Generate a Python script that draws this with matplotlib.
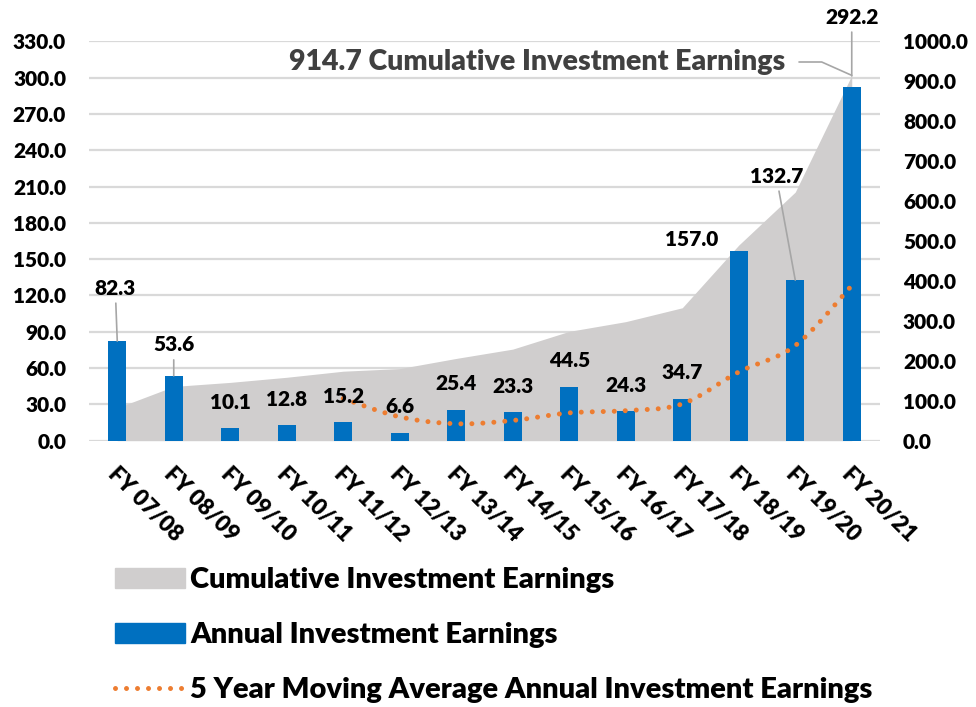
import numpy as np
import matplotlib
matplotlib.use('Agg')
import matplotlib.pyplot as plt
from matplotlib.patches import Patch
from matplotlib.lines import Line2D
import matplotlib.transforms as mtransforms

plt.rcParams['font.family'] = ['Lato', 'DejaVu Sans']
plt.rcParams['font.weight'] = 'heavy'

categories = ['FY 07/08', 'FY 08/09', 'FY 09/10', 'FY 10/11', 'FY 11/12', 'FY 12/13',
              'FY 13/14', 'FY 14/15', 'FY 15/16', 'FY 16/17', 'FY 17/18', 'FY 18/19',
              'FY 19/20', 'FY 20/21']
annual = [82.3, 53.6, 10.1, 12.8, 15.2, 6.6, 25.4, 23.3, 44.5, 24.3, 34.7, 157.0, 132.7, 292.2]
cumulative = [82.3, 135.9, 146.0, 158.8, 174.0, 180.6, 206.0, 229.3, 273.8, 298.1,
              332.8, 489.8, 622.5, 914.7]
moving_avg_start = 4
moving_avg = [34.8, 19.7, 14.0, 16.7, 23.0, 24.8, 30.4, 56.8, 78.6, 128.2]
left_ticks = [0, 30, 60, 90, 120, 150, 180, 210, 240, 270, 300, 330]
right_ticks = [0, 100, 200, 300, 400, 500, 600, 700, 800, 900, 1000]
total_label = '914.7 Cumulative Investment Earnings'

BLUE = '#0070C0'
GRAY = '#D0CECE'
ORANGE = '#ED7D31'
GRID = '#D9D9D9'
LEADER = '#A6A6A6'


def catmull_rom(xs, ys, n=30):
    xs = np.asarray(xs, float)
    ys = np.asarray(ys, float)
    px = np.concatenate([[xs[0]], xs, [xs[-1]]])
    py = np.concatenate([[ys[0]], ys, [ys[-1]]])
    outx, outy = [], []
    t = np.linspace(0, 1, n)
    for i in range(1, len(px) - 2):
        p0x, p1x, p2x, p3x = px[i - 1], px[i], px[i + 1], px[i + 2]
        p0y, p1y, p2y, p3y = py[i - 1], py[i], py[i + 1], py[i + 2]
        c1x, c1y = p1x + (p2x - p0x) / 6, p1y + (p2y - p0y) / 6
        c2x, c2y = p2x - (p3x - p1x) / 6, p2y - (p3y - p1y) / 6
        bx = (1 - t) ** 3 * p1x + 3 * (1 - t) ** 2 * t * c1x + 3 * (1 - t) * t ** 2 * c2x + t ** 3 * p2x
        by = (1 - t) ** 3 * p1y + 3 * (1 - t) ** 2 * t * c1y + 3 * (1 - t) * t ** 2 * c2y + t ** 3 * p2y
        outx.append(bx if i == 1 else bx[1:])
        outy.append(by if i == 1 else by[1:])
    return np.concatenate(outx), np.concatenate(outy)


fig = plt.figure(figsize=(9.76, 7.07), dpi=100)
W, H = 976, 707
rect = [89 / W, 1 - 440.7 / H, (880 - 89) / W, (440.7 - 41.3) / H]
ax = fig.add_axes(rect)
ax2 = ax.twinx()
ax3 = ax.twinx()

x = np.arange(len(categories))

# grid / left axis
ax.set_xlim(-0.5, len(categories) - 0.5)
ax.set_ylim(0, 330)
ax.set_yticks(left_ticks)
ax.set_yticklabels([f'{v:.1f}' for v in left_ticks])
ax.yaxis.grid(True, color=GRID, lw=1.6)
ax.tick_params(axis='y', length=0, pad=16.5, labelsize=15)
for s in ax.spines.values():
    s.set_visible(False)
ax.set_xticks(x)
ax.set_xticklabels(categories, rotation=-45, ha='left', va='center',
                   rotation_mode='anchor', fontsize=16)
ax.tick_params(axis='x', length=0, pad=0)
off = mtransforms.ScaledTranslation(-6 / 100, -30 / 100, fig.dpi_scale_trans)
for lab in ax.get_xticklabels():
    lab.set_transform(lab.get_transform() + off)

# area on right axis
ax2.set_ylim(0, 1000)
ax2.set_yticks(right_ticks)
ax2.set_yticklabels([f'{v:.1f}' for v in right_ticks])
ax2.tick_params(axis='y', length=0, pad=16.5, labelsize=15)
for s in ax2.spines.values():
    s.set_visible(False)
ax2.fill_between(x, 0, cumulative, color=GRAY, lw=0)

# bars & moving average on left scale
ax3.set_ylim(0, 330)
ax3.set_yticks([])
for s in ax3.spines.values():
    s.set_visible(False)
ax3.bar(x, annual, width=0.32, color=BLUE, zorder=2)
mx = x[moving_avg_start:]
sx, sy = catmull_rom(mx, moving_avg)
ax3.plot(sx, sy, color=ORANGE, lw=3.6, linestyle=(0, (0.001, 2.2)),
         dash_capstyle='round', zorder=3)

# data labels
special = {0: (-2, 53), 1: (0, 31), 11: (-47, 11), 12: (-19, 104), 13: (0, 70)}
leaders = {0: 0, 1: 0, 12: 0, 13: 8}
for i, v in enumerate(annual):
    dx, dy = special.get(i, (0, 26))
    kw = {}
    if i in leaders:
        kw['arrowprops'] = dict(arrowstyle='-', color=LEADER, lw=1.2,
                                shrinkA=2, shrinkB=leaders[i])
    ax3.annotate(f'{v:.1f}', xy=(i, v), xytext=(dx, dy), textcoords='offset pixels',
                 ha='center', va='center', fontsize=15, color='black',
                 annotation_clip=False, zorder=5, **kw)

# total annotation
ax2.annotate(total_label, xy=(x[-1], cumulative[-1]), xytext=(537, 707 - 62),
             textcoords='figure pixels', ha='center', va='center', fontsize=20.5,
             color='#404040', annotation_clip=False,
             arrowprops=dict(arrowstyle='-', color=LEADER, lw=1.2, shrinkA=8, shrinkB=0,
                             connectionstyle='angle,angleA=0,angleB=-24,rad=0'))

handles = [Patch(color=GRAY), Patch(color=BLUE),
           Line2D([0], [0], color=ORANGE, lw=3.6, linestyle=(0, (0.001, 2.2)),
                  dash_capstyle='round')]
labels = ['Cumulative Investment Earnings', 'Annual Investment Earnings',
          '5 Year Moving Average Annual Investment Earnings']
fs_leg = 21
fig.legend(handles, labels, loc='upper left', bbox_to_anchor=(115 / W, 1 - 567 / H),
           frameon=False, fontsize=fs_leg, handlelength=70 / (fs_leg * 100 / 72),
           handleheight=20 / (fs_leg * 100 / 72),
           handletextpad=0.17, labelspacing=1.0, borderpad=0, borderaxespad=0)

fig.savefig('out.png', dpi=100)
